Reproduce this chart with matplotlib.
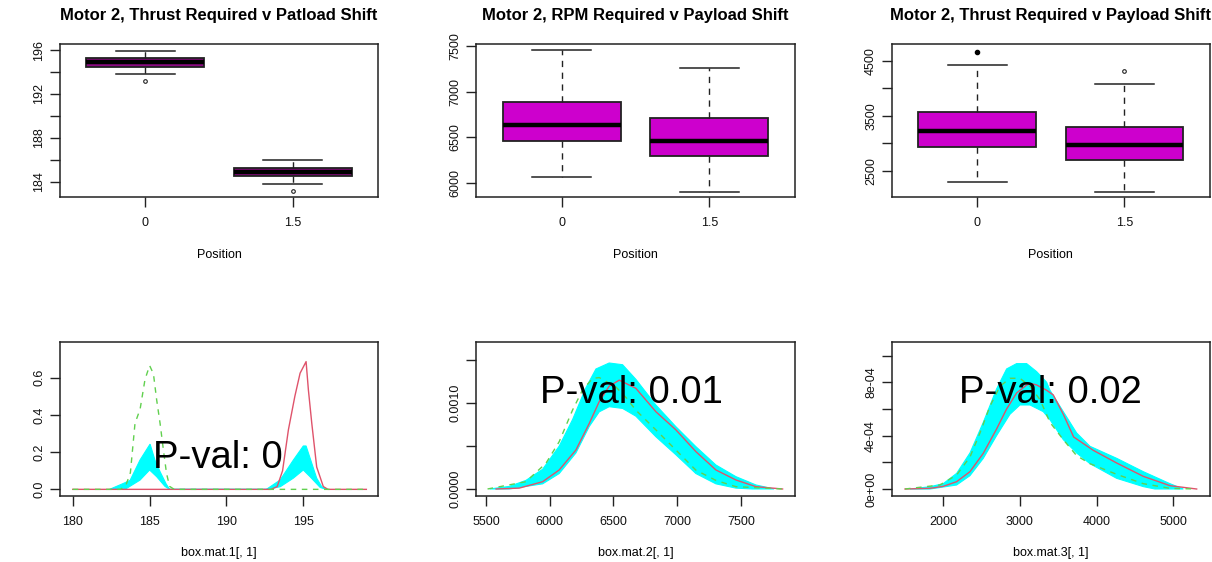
import numpy as np
import matplotlib
matplotlib.use("Agg")
import matplotlib.pyplot as plt

plt.rcParams['font.family'] = ['Liberation Sans', 'DejaVu Sans']

# --- boxplot summaries (position 0, position 1.5) ---
positions = ['0', '1.5']
titles = ['Motor 2, Thrust Required v Patload Shift',
          'Motor 2, RPM Required v Payload Shift',
          'Motor 2, Thrust Required v Payload Shift']

thrust1_med = [194.88, 184.91]
thrust1_q1 = [194.48, 184.51]
thrust1_q3 = [195.25, 185.27]
thrust1_lo = [193.85, 183.78]
thrust1_hi = [195.90, 185.94]
thrust1_out = [[193.2], [183.1]]

rpm_med = [6640, 6465]
rpm_q1 = [6462, 6300]
rpm_q3 = [6885, 6709]
rpm_lo = [6066, 5901]
rpm_hi = [7450, 7255]
rpm_out = [[], []]

thrust3_med = [3227, 2973]
thrust3_q1 = [2931, 2700]
thrust3_q3 = [3567, 3295]
thrust3_lo = [2295, 2113]
thrust3_hi = [4427, 4082]
thrust3_out = [[4664], [4318]]

# --- density comparison curves (red solid = group 1, green dashed = group 2) ---
r1_x = [180, 192.9, 193.3, 193.65, 194.03, 194.45, 194.79, 195.18, 195.33, 195.55, 195.87, 196.3, 196.6, 199.1]
r1_y = [0, 0, 0.015, 0.1, 0.32, 0.5, 0.624, 0.686, 0.534, 0.355, 0.12, 0.015, 0, 0]
g1_x = [180, 183.1, 183.45, 183.75, 184.05, 184.38, 184.7, 185.0, 185.25, 185.46, 185.68, 185.9, 186.1, 186.3, 186.6, 199.1]
g1_y = [0, 0, 0.02, 0.09, 0.355, 0.43, 0.59, 0.665, 0.62, 0.48, 0.355, 0.21, 0.086, 0.016, 0, 0]
b1_hi_x = [182.4, 183.3, 183.73, 184.38, 185.03, 185.35, 185.68, 186.07, 186.3,
           192.6, 193.49, 194.35, 195.0, 195.18, 195.55, 195.87, 196.2, 196.5]
b1_hi_y = [0, 0.032, 0.048, 0.158, 0.243, 0.157, 0.095, 0.03, 0,
           0, 0.05, 0.157, 0.233, 0.233, 0.14, 0.06, 0.014, 0]
b1_lo_x = [182.4, 183.5, 184.38, 185.0, 185.46, 186.0, 186.3, 192.6, 193.5, 194.35, 195.0, 195.45, 196.1, 196.5]
b1_lo_y = [0, 0.005, 0.05, 0.104, 0.068, 0.016, 0, 0, 0.014, 0.06, 0.104, 0.067, 0.01, 0]

r2_x = [5580, 5761, 5945, 6075, 6206, 6311, 6389, 6467, 6546, 6676, 6833, 6990, 7147, 7304, 7461, 7618, 7827]
r2_y = [0, 0.00001, 0.000085, 0.000222, 0.000455, 0.000766, 0.00102, 0.0012, 0.00127, 0.001175,
        0.000902, 0.00069, 0.000436, 0.000222, 0.000105, 0.000027, 0]
g2_x = [5513, 5814, 5971, 6075, 6180, 6258, 6337, 6389, 6520, 6603, 6676, 6833, 6990, 7147, 7304, 7461, 7827]
g2_y = [0, 0.000085, 0.0003, 0.000552, 0.000922, 0.001155, 0.00129, 0.0013, 0.00119, 0.00106,
        0.00092, 0.00069, 0.000455, 0.00022, 0.0001, 0.000027, 0]
b2_hi_x = [5530, 5683, 5814, 5945, 6075, 6180, 6284, 6363, 6467, 6572, 6676, 6833, 6990, 7147, 7304, 7461, 7618, 7760]
b2_hi_y = [0, 0.00003, 0.0001, 0.00023, 0.0005, 0.00081, 0.00118, 0.0014, 0.00147, 0.00145, 0.00128,
           0.00098, 0.000727, 0.000494, 0.00028, 0.000144, 0.000047, 0]
b2_lo_x = [5683, 5945, 6075, 6206, 6311, 6389, 6467, 6572, 6676, 6833, 6990, 7147, 7304, 7461, 7590]
b2_lo_y = [0, 0.00006, 0.00018, 0.00042, 0.00073, 0.0009, 0.00096, 0.00094, 0.00085, 0.00061,
           0.0004, 0.00018, 0.00006, 0.00001, 0]

r3_x = [1501, 1826, 1999, 2174, 2348, 2522, 2695, 2826, 2956, 3087, 3150, 3217, 3348, 3434, 3565, 3700,
        3956, 4261, 4608, 4956, 5304]
r3_y = [0, 0.000005, 0.00002, 0.000055, 0.00013, 0.000268, 0.00045, 0.0006, 0.00072, 0.00078, 0.00079,
        0.00078, 0.00074, 0.000705, 0.00056, 0.00039, 0.00029, 0.000195, 0.000095, 0.000025, 0]
g3_x = [1501, 1956, 2174, 2348, 2478, 2608, 2739, 2869, 3000, 3130, 3261, 3391, 3565, 3739, 3913,
        4261, 4608, 4956, 5304]
g3_y = [0, 0.00003, 0.000105, 0.00024, 0.00042, 0.00062, 0.00077, 0.00083, 0.00083, 0.00077, 0.00067,
        0.0005, 0.00037, 0.00025, 0.00019, 0.00011, 0.00004, 0.000005, 0]
b3_hi_x = [1566, 1826, 1999, 2174, 2348, 2522, 2695, 2826, 2956, 3087, 3217, 3348, 3391, 3565, 3739,
           3913, 4261, 4608, 4956, 5130]
b3_hi_y = [0, 0.000017, 0.00004, 0.000117, 0.00027, 0.0005, 0.00075, 0.0009, 0.00094, 0.00094, 0.00088,
           0.0008, 0.00074, 0.00058, 0.00042, 0.00032, 0.00023, 0.00013, 0.00004, 0]
b3_lo_x = [1826, 2174, 2348, 2522, 2695, 2869, 3000, 3130, 3304, 3391, 3565, 3739, 3913, 4261, 4608, 4760]
b3_lo_y = [0, 0.00003, 0.0001, 0.00023, 0.0004, 0.00056, 0.00063, 0.00063, 0.00058, 0.00052, 0.00037,
           0.00027, 0.00019, 0.00008, 0.000018, 0]

pvals = ['P-val: 0', 'P-val: 0.01', 'P-val: 0.02']
xlabels = ['box.mat.1[, 1]', 'box.mat.2[, 1]', 'box.mat.3[, 1]']

BOXCOL = '#CD00CD'
EDGE = '#222222'

fig = plt.figure(figsize=(12.12, 5.62), dpi=100)
lefts = [0.0495, 0.3927, 0.7357]
widths = [0.2624, 0.2632, 0.2626]
top_axes = [fig.add_axes([l, 0.6495, w, 0.2722]) for l, w in zip(lefts, widths)]
bot_axes = [fig.add_axes([l, 0.118, w, 0.273]) for l, w in zip(lefts, widths)]


def style(ax):
    for s in ax.spines.values():
        s.set_color(EDGE)
        s.set_linewidth(1.1)
    ax.tick_params(axis='both', direction='out', length=7, width=1, color=EDGE,
                   labelsize=9, labelcolor='#111111')
    ax.tick_params(axis='x', pad=7.5)
    ax.tick_params(axis='y', pad=3.5)


def boxes(ax, med, q1, q3, lo, hi, out, title, ylim, yticks, ylabels, fill=BOXCOL, filled_out=None):
    stats = []
    for i in range(2):
        stats.append(dict(med=med[i], q1=q1[i], q3=q3[i], whislo=lo[i], whishi=hi[i], fliers=out[i]))
    ax.bxp(stats, positions=[1, 2], widths=0.8, capwidths=0.4, patch_artist=True,
           boxprops=dict(facecolor=fill, edgecolor=EDGE, linewidth=1.3),
           medianprops=dict(color='black', linewidth=3.2, solid_capstyle='butt'),
           whiskerprops=dict(color=EDGE, linewidth=1.0, linestyle=(0, (4.5, 4))),
           capprops=dict(color=EDGE, linewidth=1.1),
           flierprops=dict(marker='o', markersize=2.6, markerfacecolor='none',
                           markeredgecolor=EDGE, markeredgewidth=0.8))
    if filled_out is not None:
        ax.plot([filled_out[0]], [filled_out[1]], 'o', color='black', markersize=3)
    ax.set_xlim(0.42, 2.58)
    ax.set_ylim(*ylim)
    ax.set_xticks([1, 2])
    ax.set_xticklabels(positions)
    ax.set_yticks(yticks)
    ax.set_yticklabels(ylabels, rotation=90, va='center')
    ax.set_xlabel('Position', fontsize=9, labelpad=14)
    ax.set_title(title, fontsize=12, fontweight='bold', pad=17)
    style(ax)


boxes(top_axes[0], thrust1_med, thrust1_q1, thrust1_q3, thrust1_lo, thrust1_hi, thrust1_out,
      titles[0], (182.6, 196.55), [184, 186, 188, 190, 192, 194, 196],
      ['184', '', '188', '', '192', '', '196'], fill='#8A0A80')
boxes(top_axes[1], rpm_med, rpm_q1, rpm_q3, rpm_lo, rpm_hi, rpm_out,
      titles[1], (5850, 7519), [6000, 6500, 7000, 7500], ['6000', '6500', '7000', '7500'])
boxes(top_axes[2], thrust3_med, thrust3_q1, thrust3_q3, thrust3_lo, thrust3_hi,
      [[], thrust3_out[1]], titles[2], (2022, 4804), [2500, 3000, 3500, 4000, 4500],
      ['2500', '', '3500', '', '4500'], filled_out=(1, thrust3_out[0][0]))


def density(ax, rx, ry, gx, gy, hx, hy, lx, ly, ptxt, pxy, xlim, ylim, xticks, xlabs, yticks, ylabs, xlab):
    ax.fill(np.concatenate([hx, lx[::-1]]), np.concatenate([hy, ly[::-1]]),
            color='#00FFFF', linewidth=0.8, edgecolor='#00FFFF', zorder=1)
    ax.plot(rx, ry, color='#DF536B', linewidth=1.0, zorder=3)
    ax.plot(gx, gy, color='#61D04F', linewidth=1.0, linestyle=(0, (4, 4)), zorder=3)
    ax.text(pxy[0], pxy[1], ptxt, fontsize=27.5, ha='center', va='baseline', color='black', zorder=4)
    ax.set_xlim(*xlim)
    ax.set_ylim(*ylim)
    ax.set_xticks(xticks)
    ax.set_xticklabels(xlabs)
    ax.set_yticks(yticks)
    ax.set_yticklabels(ylabs, rotation=90, va='center')
    ax.set_xlabel(xlab, fontsize=9, labelpad=14)
    style(ax)


density(bot_axes[0], r1_x, r1_y, g1_x, g1_y, b1_hi_x, b1_hi_y, b1_lo_x, b1_lo_y,
        pvals[0], (189.42, 0.113), (179.17, 199.86), (-0.034, 0.79),
        [180, 185, 190, 195], ['180', '185', '190', '195'],
        [0, 0.2, 0.4, 0.6], ['0.0', '0.2', '0.4', '0.6'], xlabels[0])
density(bot_axes[1], r2_x, r2_y, g2_x, g2_y, b2_hi_x, b2_hi_y, b2_lo_x, b2_lo_y,
        pvals[1], (6643, 0.001), (5422, 7924), (-0.0000782, 0.001712),
        [5500, 6000, 6500, 7000, 7500], ['5500', '6000', '6500', '7000', '7500'],
        [0, 0.0005, 0.001, 0.0015], ['0.0000', '', '0.0010', ''], xlabels[1])
density(bot_axes[2], r3_x, r3_y, g3_x, g3_y, b3_hi_x, b3_hi_y, b3_lo_x, b3_lo_y,
        pvals[2], (3391, 0.000643), (1327, 5477), (-0.00005, 0.0011),
        [2000, 3000, 4000, 5000], ['2000', '3000', '4000', '5000'],
        [0, 0.0002, 0.0004, 0.0006, 0.0008, 0.001], ['0e+00', '', '4e-04', '', '8e-04', ''], xlabels[2])

fig.savefig('out.png', dpi=100, facecolor='white')
